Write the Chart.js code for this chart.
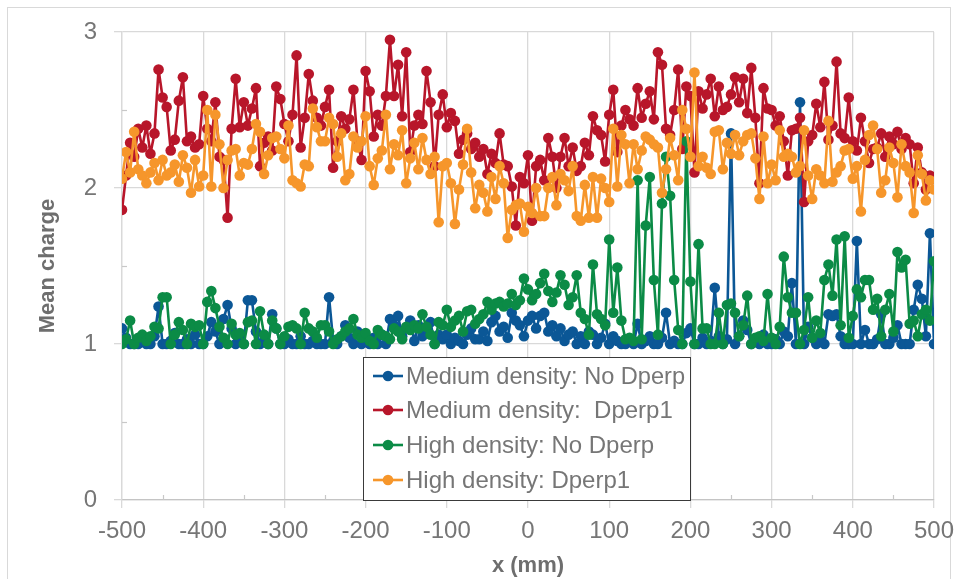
<!DOCTYPE html>
<html>
<head>
<meta charset="utf-8">
<script src="https://cdn.jsdelivr.net/npm/chart.js@4.4.1/dist/chart.umd.min.js"></script>
<style>
html,body{margin:0;padding:0;background:#fff;}
#wrap{width:958px;height:579px;position:relative;}
</style>
</head>
<body>
<div id="wrap"><canvas id="c" width="958" height="579"></canvas></div>
<script>
// x positions (mm)
const xPositions = [
-500,-495,-490,-485,-480,-475,-470,-465,-460,-455,-450,-445,-440,-435,-430,-425,-420,-415,-410,-405,
-400,-395,-390,-385,-380,-375,-370,-365,-360,-355,-350,-345,-340,-335,-330,-325,-320,-315,-310,-305,
-300,-295,-290,-285,-280,-275,-270,-265,-260,-255,-250,-245,-240,-235,-230,-225,-220,-215,-210,-205,
-200,-195,-190,-185,-180,-175,-170,-165,-160,-155,-150,-145,-140,-135,-130,-125,-120,-115,-110,-105,
-100,-95,-90,-85,-80,-75,-70,-65,-60,-55,-50,-45,-40,-35,-30,-25,-20,-15,-10,-5,
0,5,10,15,20,25,30,35,40,45,50,55,60,65,70,75,80,85,90,95,
100,105,110,115,120,125,130,135,140,145,150,155,160,165,170,175,180,185,190,195,
200,205,210,215,220,225,230,235,240,245,250,255,260,265,270,275,280,285,290,295,
300,305,310,315,320,325,330,335,340,345,350,355,360,365,370,375,380,385,390,395,
400,405,410,415,420,425,430,435,440,445,450,455,460,465,470,475,480,485,490,495,
500];

const mediumNoDperp = [
1.10,1.04,1.00,1.00,1.00,1.02,1.00,1.00,1.05,1.24,
1.00,1.00,1.02,1.07,1.00,1.00,1.03,1.00,1.06,1.00,
1.00,1.05,1.14,1.08,1.00,1.16,1.25,1.10,1.00,1.04,
1.00,1.28,1.28,1.08,1.00,1.02,1.00,1.19,1.10,1.00,
1.00,1.03,1.00,1.00,1.05,1.00,1.00,1.02,1.00,1.00,
1.00,1.30,1.02,1.00,1.05,1.12,1.04,1.00,1.08,1.00,
1.02,1.00,1.04,1.00,1.06,1.00,1.16,1.12,1.18,1.05,
1.10,1.15,1.02,1.12,1.05,1.10,1.14,1.00,1.06,1.03,
1.06,1.00,1.04,1.02,1.00,1.06,1.10,1.03,1.03,1.08,
1.02,1.14,1.18,1.08,1.11,1.04,1.20,1.15,1.12,1.05,
1.15,1.18,1.10,1.18,1.20,1.08,1.12,1.05,1.10,1.02,
1.06,1.08,1.00,1.05,1.00,1.08,1.06,1.00,1.04,1.13,
1.00,1.05,1.02,1.00,1.00,1.03,1.00,1.13,1.00,1.02,
1.05,1.00,1.00,1.04,1.20,1.00,1.02,1.00,1.00,1.07,
1.10,1.00,1.00,1.04,1.00,1.02,1.36,1.05,1.00,1.03,
2.35,1.00,1.05,1.15,1.09,1.00,1.02,1.00,1.06,1.00,
1.00,1.03,1.00,1.08,1.05,1.39,1.00,2.55,1.00,1.11,
1.04,1.00,1.02,1.00,1.19,1.18,1.19,1.05,1.00,1.00,
1.00,1.66,1.00,1.09,1.00,1.00,1.03,1.19,1.00,1.00,
1.04,1.12,1.00,1.00,1.00,1.22,1.38,1.29,1.05,1.71,
1.00];

const mediumDperp1 = [
1.86,2.08,2.29,2.20,2.38,2.26,2.40,2.22,2.35,2.76,
2.58,2.52,2.24,2.31,2.56,2.71,2.30,2.33,2.26,2.28,
2.59,2.38,2.30,2.55,2.20,2.18,1.81,2.38,2.70,2.39,
2.55,2.40,2.51,2.64,2.14,2.29,2.33,2.24,2.65,2.57,
2.41,2.30,2.47,2.85,2.26,2.45,2.73,2.56,2.45,2.40,
2.52,2.63,2.13,2.30,2.46,2.38,2.44,2.63,2.30,2.18,
2.75,2.62,2.33,2.47,2.40,2.59,2.95,2.59,2.79,2.46,
2.87,2.23,2.40,2.47,2.41,2.75,2.55,2.14,2.47,2.60,
2.39,2.48,2.43,2.22,2.31,2.35,2.25,2.29,2.20,2.25,
2.09,2.22,2.16,2.35,2.15,2.14,2.01,1.76,2.07,2.03,
2.21,1.79,2.14,2.18,2.05,2.32,2.20,2.00,2.20,2.32,
2.14,2.26,2.11,2.14,2.29,2.21,2.46,2.37,2.34,2.17,
2.47,2.63,2.23,2.40,2.50,2.44,2.40,2.64,2.45,2.54,
2.62,2.44,2.87,2.79,2.38,2.34,2.50,2.76,2.25,2.65,
2.59,2.10,2.62,2.51,2.60,2.70,2.46,2.65,2.50,2.52,
2.60,2.71,2.55,2.70,2.48,2.77,2.45,2.03,2.64,2.51,
2.50,2.40,2.46,2.30,2.08,2.37,2.38,2.45,1.91,2.30,
2.34,2.54,2.39,2.68,2.31,2.40,2.81,2.35,2.32,2.58,
2.30,2.24,2.45,2.30,2.16,2.25,2.26,2.35,2.20,2.33,
2.28,2.36,2.25,2.32,2.28,2.03,2.26,2.10,1.99,2.08,
2.06];

const highNoDperp = [
1.00,1.03,1.15,1.00,1.04,1.06,1.02,1.05,1.11,1.10,
1.30,1.30,1.00,1.06,1.14,1.09,1.00,1.13,1.11,1.12,
1.00,1.27,1.34,1.23,1.11,1.04,1.00,1.13,1.06,1.07,
1.00,1.14,1.15,1.00,1.21,1.06,1.00,1.15,1.10,1.00,
1.05,1.11,1.12,1.10,1.00,1.20,1.10,1.08,1.04,1.12,
1.12,1.08,1.00,1.03,1.05,1.08,1.10,1.16,1.06,1.04,
1.07,1.02,1.00,1.09,1.06,1.05,1.03,1.10,1.08,1.03,
1.11,1.09,1.12,1.10,1.19,1.11,1.06,1.00,1.14,1.12,
1.22,1.11,1.15,1.18,1.08,1.21,1.22,1.13,1.16,1.19,
1.27,1.22,1.26,1.27,1.24,1.26,1.32,1.25,1.28,1.42,
1.35,1.28,1.32,1.39,1.45,1.34,1.27,1.33,1.44,1.38,
1.25,1.30,1.44,1.20,1.16,1.06,1.51,1.19,1.16,1.12,
1.67,1.20,1.49,1.15,1.03,1.04,1.02,2.05,1.03,1.76,
2.07,1.41,1.06,1.90,2.20,1.95,1.41,1.09,1.00,2.30,
1.40,1.00,1.64,1.10,1.10,1.00,1.00,1.20,1.00,1.25,
1.26,1.20,1.05,1.12,1.31,1.00,1.04,1.05,1.02,1.32,
1.04,1.00,1.11,1.56,1.30,1.20,1.20,1.00,1.09,1.30,
1.04,1.15,1.07,1.41,1.51,1.31,1.67,1.12,1.69,1.04,
1.18,1.35,1.30,1.41,1.41,1.22,1.29,1.05,1.22,1.32,
1.08,1.59,1.49,1.54,1.13,1.15,1.05,1.19,1.22,1.15,
1.53];

const highDperp1 = [
2.06,2.23,2.10,2.36,2.12,2.08,2.03,2.10,2.16,2.05,
2.18,2.08,2.10,2.15,2.04,2.21,2.13,1.97,2.18,2.01,
2.08,2.50,2.01,2.47,2.28,2.00,2.18,2.24,2.25,2.08,
2.16,2.15,2.25,2.41,2.36,2.09,2.21,2.32,2.33,2.25,
2.19,2.40,2.05,2.03,2.01,2.15,2.14,2.51,2.39,2.30,
2.30,2.45,2.41,2.20,2.35,2.05,2.09,2.33,2.26,2.30,
2.46,2.14,2.02,2.19,2.24,2.47,2.12,2.28,2.21,2.37,
2.03,2.19,2.29,2.12,2.32,2.18,2.09,2.20,1.78,2.14,
2.16,2.03,1.77,1.99,2.15,2.38,2.10,1.87,2.02,1.97,
1.85,2.07,1.93,2.14,2.03,1.68,1.86,1.89,1.90,1.72,
1.88,1.84,2.00,1.82,1.82,2.00,2.07,1.89,2.09,2.05,
1.98,2.14,1.82,1.79,2.02,1.81,2.07,1.81,2.06,2.00,
1.91,2.38,2.01,2.34,2.28,2.03,2.28,2.12,2.24,2.33,
2.31,2.28,2.26,1.97,2.12,2.32,2.21,2.05,2.50,2.38,
2.20,2.74,2.14,2.20,2.13,2.09,2.36,2.37,2.12,2.29,
2.22,2.34,2.21,2.30,2.34,2.35,2.19,1.93,2.33,2.03,
2.15,2.05,2.37,2.20,2.22,2.20,2.10,2.14,2.37,2.08,
1.93,2.12,2.08,2.03,2.43,2.04,2.10,2.14,2.24,2.25,
2.06,2.14,1.85,2.18,2.34,2.40,2.25,1.97,2.05,2.26,
2.16,1.94,2.28,2.14,2.10,1.84,2.21,2.09,1.92,2.05,
1.99];

const seriesNames = ["Medium density: No Dperp", "Medium density:  Dperp1", "High density: No Dperp", "High density: Dperp1"];
const seriesColors = ["#0b5796", "#b8162a", "#0b8b46", "#f6962b"];
const seriesValues = [mediumNoDperp, mediumDperp1, highNoDperp, highDperp1];
const xMinorTicks = [-450, -350, -250, -150, -50, 50, 150, 250, 350, 450];
const yMinorTicks = [0.5, 1.5, 2.5];
const xTitle = "x (mm)";
const yTitle = "Mean charge";

const FONT = '"Liberation Sans", Arial, sans-serif';
const TEXT = '#767676';

const datasets = seriesValues.map((vals, k) => ({
  label: seriesNames[k],
  data: xPositions.map((x, i) => ({ x: x, y: vals[i] })),
  borderColor: seriesColors[k],
  backgroundColor: seriesColors[k],
  pointBackgroundColor: seriesColors[k],
  pointBorderColor: seriesColors[k],
  borderWidth: 2.6,
  borderJoinStyle: 'round',
  borderCapStyle: 'round',
  pointRadius: 5.3,
  pointHoverRadius: 5.3,
  pointBorderWidth: 0,
  pointStyle: 'circle',
  tension: 0,
  order: 3 - k
}));

const decor = {
  id: 'decor',
  beforeDraw(chart) {
    const ctx = chart.ctx;
    ctx.save();
    ctx.fillStyle = '#fff';
    ctx.fillRect(0, 0, chart.width, chart.height);
    ctx.strokeStyle = '#d9d9d9';
    ctx.lineWidth = 1;
    ctx.strokeRect(7.5, 7.5, 943, 590);
    ctx.restore();
  },
  afterDraw(chart) {
    const ctx = chart.ctx;
    const xs = chart.scales.x, ys = chart.scales.y;
    ctx.save();
    ctx.strokeStyle = '#c8c8c8';
    ctx.lineWidth = 1.2;
    xMinorTicks.forEach(v => {
      const px = Math.round(xs.getPixelForValue(v)) + 0.5;
      ctx.beginPath(); ctx.moveTo(px, ys.bottom); ctx.lineTo(px, ys.bottom - 5); ctx.stroke();
    });
    yMinorTicks.forEach(v => {
      const py = Math.round(ys.getPixelForValue(v)) + 0.5;
      ctx.beginPath(); ctx.moveTo(xs.left, py); ctx.lineTo(xs.left + 5, py); ctx.stroke();
    });
    // legend box
    const bx = 363.5, by = 357.5, bw = 327, bh = 143;
    ctx.fillStyle = '#fff';
    ctx.fillRect(bx, by, bw, bh);
    ctx.strokeStyle = '#3a3a3a';
    ctx.lineWidth = 1;
    ctx.strokeRect(bx, by, bw, bh);
    const rows = [376, 410, 445, 480];
    ctx.font = '24px ' + FONT;
    ctx.textBaseline = 'middle';
    ctx.textAlign = 'left';
    seriesNames.forEach((name, k) => {
      const y = rows[k];
      ctx.strokeStyle = seriesColors[k];
      ctx.lineWidth = 2.6;
      ctx.beginPath(); ctx.moveTo(373, y); ctx.lineTo(403, y); ctx.stroke();
      ctx.fillStyle = seriesColors[k];
      ctx.beginPath(); ctx.arc(388, y, 5.3, 0, Math.PI * 2); ctx.fill();
      ctx.fillStyle = TEXT;
      ctx.fillText(name, 406, y + 1, 279);
    });
    ctx.restore();
  }
};

new Chart(document.getElementById('c'), {
  type: 'line',
  data: { datasets: datasets },
  options: {
    responsive: false,
    animation: false,
    devicePixelRatio: 1,
    layout: { padding: { left: 0, right: 24, top: 32, bottom: 0 } },
    plugins: { legend: { display: false }, tooltip: { enabled: false }, title: { display: false } },
    scales: {
      x: {
        type: 'linear', min: -500, max: 500,
        ticks: { stepSize: 100, color: TEXT, font: { size: 24, family: FONT }, padding: 9, maxRotation: 0, autoSkip: false },
        grid: { color: '#d9d9d9', lineWidth: 1.3, tickLength: 8 },
        border: { color: '#c4c4c4', width: 1.3 },
        title: { display: true, text: xTitle, color: '#6e6e6e', font: { size: 22, weight: 'bold', family: FONT }, padding: { top: 0, bottom: 0 } },
        afterFit(scale) { scale.height = 79; scale.paddingRight = 0; scale.paddingLeft = 0; }
      },
      y: {
        min: 0, max: 3,
        ticks: { stepSize: 1, color: TEXT, font: { size: 24, family: FONT }, padding: 17 },
        grid: { color: '#d9d9d9', lineWidth: 1.3, tickLength: 8 },
        border: { color: '#d9d9d9', width: 1.3 },
        title: { display: true, text: yTitle, color: '#6e6e6e', font: { size: 22, weight: 'bold', family: FONT }, padding: { top: 35, bottom: 0 } },
        afterFit(scale) { scale.width = 122; scale.paddingTop = 0; scale.paddingBottom = 0; }
      }
    }
  },
  plugins: [decor]
});
</script>
</body>
</html>
